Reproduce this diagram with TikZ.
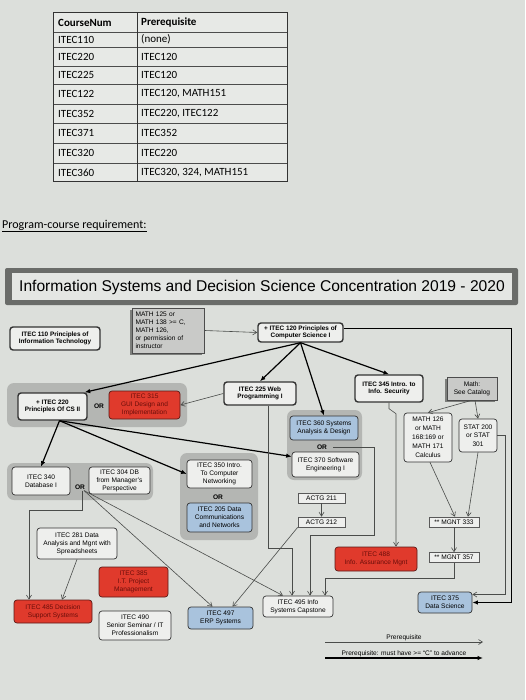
\documentclass[tikz,border=0pt]{standalone}
\usepackage{fontspec}
\setmainfont{Liberation Sans}
\newfontfamily\calib{Carlito}
\usetikzlibrary{arrows.meta,shadows,calc}
\definecolor{bg}{HTML}{DCDFDB}
\definecolor{tablefill}{HTML}{E7E9E6}
\definecolor{boxfill}{HTML}{EEEFED}
\definecolor{grpfill}{HTML}{B4B6B3}
\definecolor{redfill}{HTML}{E03A2C}
\definecolor{redtext}{HTML}{6A0E0A}
\definecolor{reddraw}{HTML}{5A1A16}
\definecolor{bluefill}{HTML}{A9C3DD}
\definecolor{grayfill}{HTML}{C9CAC8}
\definecolor{shadowc}{HTML}{7D7F7C}
\definecolor{lineg}{HTML}{4A4C4A}
\definecolor{titledark}{HTML}{6A6C69}
\definecolor{titlelight}{HTML}{E4E6E3}
\begin{document}
\begin{tikzpicture}[x=1pt,y=-1pt,
  nb/.style={draw=black!80, rounded corners=3pt, fill=boxfill, line width=0.7pt, align=center,
    font=\fontsize{6.6}{8}\selectfont, inner sep=1pt},
  tb/.style={nb, line width=1.4pt, font=\fontsize{6.4}{7.6}\selectfont\bfseries},
  rb/.style={nb, fill=redfill, text=redtext, draw=reddraw},
  bb/.style={nb, fill=bluefill},
  grp/.style={fill=grpfill, rounded corners=7pt, inner sep=0pt},
  sq/.style={draw=gray!70!black, fill=boxfill, line width=0.6pt, font=\fontsize{6.6}{8}\selectfont, inner sep=0.5pt},
  gb/.style={draw=gray!60!black, fill=grayfill, line width=0.5pt,
    drop shadow={shadow xshift=-2.5pt, shadow yshift=-2pt, fill=shadowc, opacity=1},
    font=\fontsize{6.6}{8}\selectfont, inner sep=1pt},
  orlab/.style={font=\fontsize{6.6}{8}\selectfont\bfseries, inner sep=1pt},
  pre/.style={draw=lineg, line width=0.6pt, -{Straight Barb[length=4pt,width=5pt]}},
  must/.style={draw=black, line width=1.2pt, -{Latex[length=5.5pt,width=4.5pt]}},
  cell/.style={anchor=west, font=\calib\fontsize{11}{13}\selectfont, inner sep=0pt},
]
\useasboundingbox (0,0) rectangle (525,700);
\fill[bg] (0,0) rectangle (525,700);

% ---------- table ----------
\fill[tablefill] (53,13) rectangle (287,182);
\foreach \yy in {32,47,66,84,104,123,143,163}
  \draw[gray!60!black, line width=0.8pt] (53,\yy) -- (287,\yy);
\draw[black!80, line width=1pt] (53,13) rectangle (287,182);
\draw[black!80, line width=0.8pt] (137,13) -- (137,182);
\node[cell, font=\calib\bfseries\fontsize{11}{13}\selectfont] (h1) at (58,22.5) {CourseNum};
\node[cell, font=\calib\bfseries\fontsize{11}{13}\selectfont] (h2) at (141,22.5) {Prerequisite};
\node[cell] (r1a) at (58,39.5) {ITEC110};  \node[cell] (r1b) at (141,39.5) {(none)};
\node[cell] (r2a) at (58,56.5) {ITEC220};  \node[cell] (r2b) at (141,56.5) {ITEC120};
\node[cell] (r3a) at (58,75) {ITEC225};    \node[cell] (r3b) at (141,75) {ITEC120};
\node[cell] (r4a) at (58,94) {ITEC122};    \node[cell] (r4b) at (141,94) {ITEC120, MATH151};
\node[cell] (r5a) at (58,113.5) {ITEC352}; \node[cell] (r5b) at (141,113.5) {ITEC220, ITEC122};
\node[cell] (r6a) at (58,133) {ITEC371};   \node[cell] (r6b) at (141,133) {ITEC352};
\node[cell] (r7a) at (58,153) {ITEC320};   \node[cell] (r7b) at (141,153) {ITEC220};
\node[cell] (r8a) at (58,172.5) {ITEC360}; \node[cell] (r8b) at (141,172.5) {ITEC320, 324, MATH151};

\node[anchor=west, font=\calib\fontsize{12}{14}\selectfont, inner sep=0pt] (prog) at (2,226)
  {\underline{Program-course requirement:}};

% ---------- title ----------
\fill[titledark, rounded corners=2pt] (5,268) rectangle (518,305);
\fill[titlelight] (12,273) rectangle (512,300);
\node[font=\fontsize{15.6}{18}\selectfont, inner sep=0pt] (title) at (262,287)
  {Information Systems and Decision Science Concentration 2019 - 2020};

% ---------- groups ----------
\node[grp, minimum width=180pt, minimum height=44pt] (g220) at (97,405) {};
\node[grp, minimum width=75pt, minimum height=70pt] (g360) at (324.5,445) {};
\node[grp, minimum width=146pt, minimum height=37pt] (g340) at (80,481.5) {};
\node[grp, minimum width=78pt, minimum height=87pt] (g350) at (219,496.5) {};

% ---------- nodes ----------
\node[tb, minimum width=90pt, minimum height=23pt] (i110) at (55,338.5) {ITEC 110 Principles of\\Information Technology};
\node[gb, minimum height=45pt, text width=66pt, align=left, inner xsep=3pt] (m125) at (168.5,330.5)
  {MATH 125 or\\MATH 138 >= C,\\MATH 126,\\or permission of\\instructor};
\node[tb, minimum width=85pt, minimum height=19pt] (i120) at (300.5,332.5) {+ ITEC 120 Principles of\\Computer Science I};
\node[tb, minimum width=69pt, minimum height=27pt] (i220) at (52.5,406.5) {+ ITEC 220\\Principles Of CS II};
\node[orlab] (or220) at (99,406) {OR};
\node[rb, minimum width=71pt, minimum height=28pt] (i315) at (144.5,405) {ITEC 315\\GUI Design and\\Implementation};
\node[tb, minimum width=72pt, minimum height=23pt] (i225) at (260,393.5) {ITEC 225 Web\\Programming I};
\node[tb, minimum width=68pt, minimum height=27pt] (i345) at (389,388.5) {ITEC 345 Intro. to\\Info. Security};
\node[gb, minimum width=50pt, minimum height=23pt, align=center] (mcat) at (472,388.5) {Math:\\See Catalog};
\node[nb, minimum width=48pt, minimum height=49pt, font=\fontsize{6.6}{9}\selectfont] (m126) at (428,437.5) {MATH 126\\or MATH\\168:169 or\\MATH 171\\Calculus};
\node[nb, minimum width=38pt, minimum height=33pt, font=\fontsize{6.6}{8.5}\selectfont] (s200) at (478,435.5) {STAT 200\\or STAT\\301};
\node[bb, minimum width=68pt, minimum height=24pt] (i360) at (324,428) {ITEC 360 Systems\\Analysis \& Design};
\node[orlab] (or360) at (322,447) {OR};
\node[nb, minimum width=67pt, minimum height=25pt] (i370) at (325.5,464.5) {ITEC 370 Software\\Engineering I};
\node[nb, minimum width=58pt, minimum height=28pt] (i340) at (41,481) {ITEC 340\\Database I};
\node[orlab] (or340) at (80,487) {OR};
\node[nb, minimum width=61pt, minimum height=27pt] (i304) at (119.5,480.5) {ITEC 304 DB\\from Manager's\\Perspective};
\node[nb, minimum width=65pt, minimum height=28pt] (i350) at (219.5,474) {ITEC 350 Intro.\\To Computer\\Networking};
\node[orlab] (or350) at (218,497) {OR};
\node[bb, minimum width=65pt, minimum height=29pt] (i205) at (219.5,517.5) {ITEC 205 Data\\Communications\\and Networks};
\node[sq, minimum width=47pt, minimum height=10pt] (a211) at (321.5,498) {ACTG 211};
\node[sq, minimum width=47pt, minimum height=10pt] (a212) at (321.5,522) {ACTG 212};
\node[sq, minimum width=50pt, minimum height=10pt] (g333) at (454,522) {** MGNT 333};
\node[sq, minimum width=50pt, minimum height=10pt] (g357) at (454,557.5) {** MGNT 357};
\node[rb, minimum width=82pt, minimum height=24pt] (i488) at (376,559) {ITEC 488\\Info. Assurance Mgnt};
\node[nb, minimum width=80pt, minimum height=31pt] (i281) at (77,543.5) {ITEC 281 Data\\Analysis and Mgnt with\\Spreadsheets};
\node[rb, minimum width=69pt, minimum height=30pt] (i385) at (133.5,582) {ITEC 385\\I.T. Project\\Management};
\node[rb, minimum width=78pt, minimum height=23pt] (i485) at (53,611.5) {ITEC 485 Decision\\Support Systems};
\node[nb, minimum width=72pt, minimum height=29pt] (i490) at (135,625.5) {ITEC 490\\Senior Seminar / IT\\Professionalism};
\node[bb, minimum width=65pt, minimum height=22pt] (i497) at (220.5,618) {ITEC 497\\ERP Systems};
\node[nb, minimum width=70pt, minimum height=21pt] (i495) at (298,606.5) {ITEC 495 Info\\Systems Capstone};
\node[bb, minimum width=54pt, minimum height=21pt] (i375) at (445,602.5) {ITEC 375\\Data Science};

% ---------- connectors ----------
\draw[pre] (m125.east) -- (i120.west);
\draw[must] (i120.south) -- ([xshift=-3pt]i220.north east);
\draw[must] (i120.south) -- (i225.north);
\draw[must] (i120.south) -- (i360.north);
\draw[must] (i120.south) -- (i345.north);
\draw[must] ([yshift=4pt]i120.east) -- ++(168,0) |- (i375.east);
\draw[pre] (i225.west) -- (i315.east);
\draw[must] ([xshift=7pt]i220.south) -- (i340.north);
\draw[must] ([xshift=7pt]i220.south) -- (i350.west);
\draw[must] ([xshift=7pt]i220.south) -- ([yshift=8pt]i370.west);
\draw[pre] ([xshift=8pt]i225.south) -- ++(0,143) -| ([xshift=-6pt]i495.north);
\draw[pre] ([xshift=5pt]or360.east) -- ++(41,0) -- ++(0,88) -| ([xshift=12pt]i495.north);
\draw[pre] (g357.south) -- ++(0,15) -| ([xshift=27pt]i495.north);
\draw[pre] ([xshift=2pt]or340.south) -- ++(0,20) -| ([xshift=-24pt]i485.north);
\draw[pre] (i281.south) -- ([xshift=9pt]i485.north);
\draw[pre] ([xshift=4pt]or340.south) -- ([xshift=-15pt]i495.north);
\draw[pre] ([xshift=4pt]or340.south) -- ([xshift=-8pt]i497.north);
\draw[pre] (a212.south west) -- ([xshift=12pt]i497.north);
\draw[pre] (a211) -- (a212);
\draw[pre] (i345.south) -- ++(0,6) -- ++(7,5) -- ([xshift=20pt]i488.north);
\draw[pre] (mcat.south) -- (m126.north);
\draw[pre] ([xshift=3pt]mcat.south) -- (s200.north);
\draw[pre] ([xshift=2pt]m126.south) -- ([xshift=1pt]g333.north);
\draw[pre] (s200.south) -- ([xshift=14pt]g333.north);
\draw[pre] (g333) -- (g357);
\draw[pre] (s200.east) -- ++(8,0) |- ([yshift=8pt]i375.east);

% ---------- legend ----------
\coordinate (l1a) at (325,642);
\coordinate (l1b) at (483,642);
\coordinate (l2a) at (325,658);
\coordinate (l2b) at (483,658);
\draw[pre] (l1a) -- (l1b);
\draw[must] (l2a) -- (l2b);
\node[font=\fontsize{6.6}{8}\selectfont, anchor=south, inner sep=1pt] (leg1) at ($(l1a)!0.5!(l1b)$) {Prerequisite};
\node[font=\fontsize{6.6}{8}\selectfont, anchor=south, inner sep=1pt] (leg2) at ($(l2a)!0.5!(l2b)$) {Prerequisite: must have >= ``C'' to advance};
\end{tikzpicture}
\end{document}
